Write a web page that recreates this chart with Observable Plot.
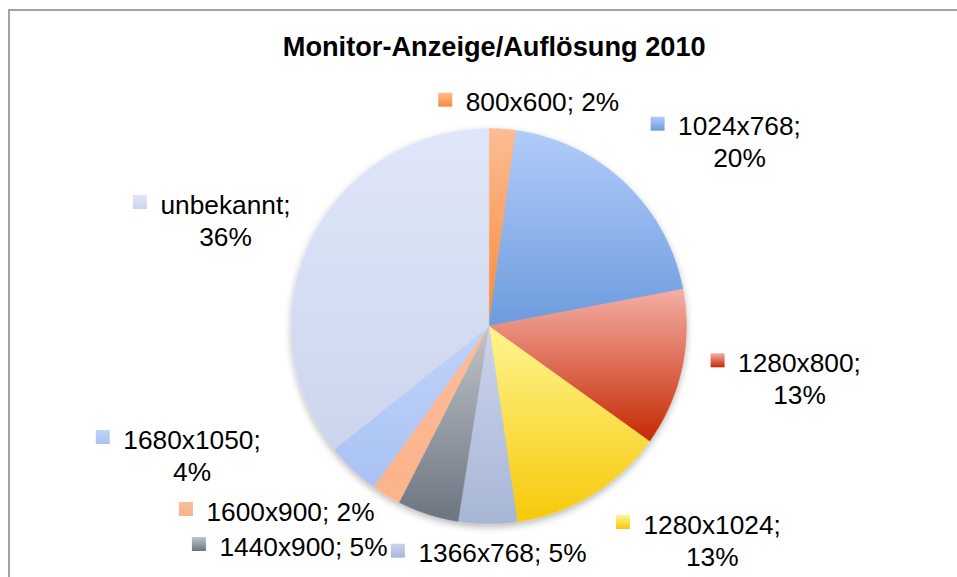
<!DOCTYPE html>
<html>
<head>
<meta charset="utf-8">
<script src="https://cdn.jsdelivr.net/npm/d3@7"></script>
<script src="https://cdn.jsdelivr.net/npm/@observablehq/plot@0.6"></script>
<style>
  html, body { margin: 0; padding: 0; background: #fff; }
  #wrap { position: relative; width: 957px; height: 577px; overflow: hidden; }
  #frame { position: absolute; left: 8px; top: 9px; width: 1200px; height: 1200px;
           border-left: 2px solid #a3a3a3; border-top: 2px solid #a3a3a3; }
  #chart { position: absolute; left: 0; top: 0; }
</style>
</head>
<body>
<div id="wrap"><div id="frame"></div><div id="chart"></div></div>
<script>
// ---- data ----
const title = "Monitor-Anzeige/Auflösung 2010";
const categories = ["800x600", "1024x768", "1280x800", "1280x1024", "1366x768", "1440x900", "1600x900", "1680x1050", "unbekannt"];
const shares = [2.2, 19.8, 12.9, 12.8, 4.8, 5.0, 2.4, 4.4, 35.7];
const pctLabels = ["2%", "20%", "13%", "13%", "5%", "5%", "2%", "4%", "36%"];

// ---- style ----
const gradTop    = ["#fdbc94", "#b1ccfa", "#f5aea5", "#fff490", "#cbd4ed", "#c1c5ca", "#fdbd9a", "#c0d4fa", "#dfe6f9"];
const gradBottom = ["#f88a36", "#6d9bde", "#c42a02", "#f6c909", "#a8b6d6", "#6b7480", "#fcb38b", "#a9c2f2", "#ccd5ec"];

// ---- layout (label anchor: centre x, baseline of last line, line break) ----
const labelCx   = [542, 739, 799, 711.7, 502, 303, 290, 191.5, 225];
const labelBase = [110.7, 166.7, 403.3, 565, 561.7, 555, 520, 480, 245];
const labelTwo  = [false, true, true, true, false, false, false, true, true];

const W = 957, H = 577;
const CX = 488.3, CY = 325.7, R = 197.6;
const FS = 26.3, LH = 32;

// pie geometry from the data
const arcs = d3.pie().sort(null).value(d => d)(shares);
const points = [];
arcs.forEach((a, i) => {
  const cat = categories[i];
  points.push({cat, x: CX, y: CY});
  const n = Math.max(4, Math.ceil((a.endAngle - a.startAngle) / (Math.PI / 360)));
  for (let k = 0; k <= n; k++) {
    const t = a.startAngle + (a.endAngle - a.startAngle) * k / n;
    points.push({cat, x: CX + R * Math.sin(t), y: CY - R * Math.cos(t)});
  }
  points.push({cat, x: CX, y: CY});
});

// labels
const ctx = document.createElement("canvas").getContext("2d");
ctx.font = `${FS}px "Liberation Sans"`;
const labels = categories.map((c, i) => {
  const line1 = labelTwo[i] ? `${c};` : `${c}; ${pctLabels[i]}`;
  const text = labelTwo[i] ? `${c};\n${pctLabels[i]}` : line1;
  const w1 = ctx.measureText(line1).width;
  const firstBase = labelBase[i] - (labelTwo[i] ? LH : 0);
  return {
    cat: c, text, x: labelCx[i], y: labelBase[i],
    mx: labelCx[i] - w1 / 2 - 13.5 - 7, my: firstBase - 11.5
  };
});

const fills = categories.map((_, i) => `url(#g${i})`);

const svg = Plot.plot({
  width: W, height: H, margin: 0,
  x: {domain: [0, W], range: [0, W], axis: null},
  y: {domain: [0, H], range: [0, H], axis: null},
  color: {domain: categories, range: fills},
  style: {background: "transparent", fontFamily: "Liberation Sans"},
  marks: [
    Plot.line(points, {x: "x", y: "y", z: "cat", fill: "cat", stroke: "cat", strokeWidth: 0.6, curve: "linear"}),
    Plot.dot(labels, {x: "mx", y: "my", fill: "cat", symbol: "square", r: 14 / Math.sqrt(Math.PI), stroke: null}),
    Plot.text(labels, {x: "x", y: "y", text: "text", fontSize: FS, lineAnchor: "bottom", lineHeight: LH / FS,
                       textAnchor: "middle", fill: "#000", fontFamily: "Liberation Sans"}),
    Plot.text([title], {x: () => 493.7, y: () => 55.7, text: d => d, fontSize: 27.2, fontWeight: "bold",
                        lineAnchor: "bottom", textAnchor: "middle", fill: "#000", fontFamily: "Liberation Sans"})
  ]
});

// gradients & shadow
const defs = d3.select(svg).insert("defs", ":first-child");
categories.forEach((_, i) => {
  const g = defs.append("linearGradient").attr("id", `g${i}`)
    .attr("x1", 0).attr("y1", 0).attr("x2", 0).attr("y2", 1);
  g.append("stop").attr("offset", "0%").attr("stop-color", gradTop[i]);
  g.append("stop").attr("offset", "100%").attr("stop-color", gradBottom[i]);
});
const f = defs.append("filter").attr("id", "shadow")
  .attr("x", "-10%").attr("y", "-10%").attr("width", "120%").attr("height", "125%");
f.append("feDropShadow").attr("dx", 0).attr("dy", 3).attr("stdDeviation", 3.5)
  .attr("flood-color", "#000").attr("flood-opacity", 0.28);
const lineG = svg.querySelector('g[aria-label="line"]');
if (lineG) lineG.setAttribute("filter", "url(#shadow)");

document.getElementById("chart").appendChild(svg);
</script>
</body>
</html>
